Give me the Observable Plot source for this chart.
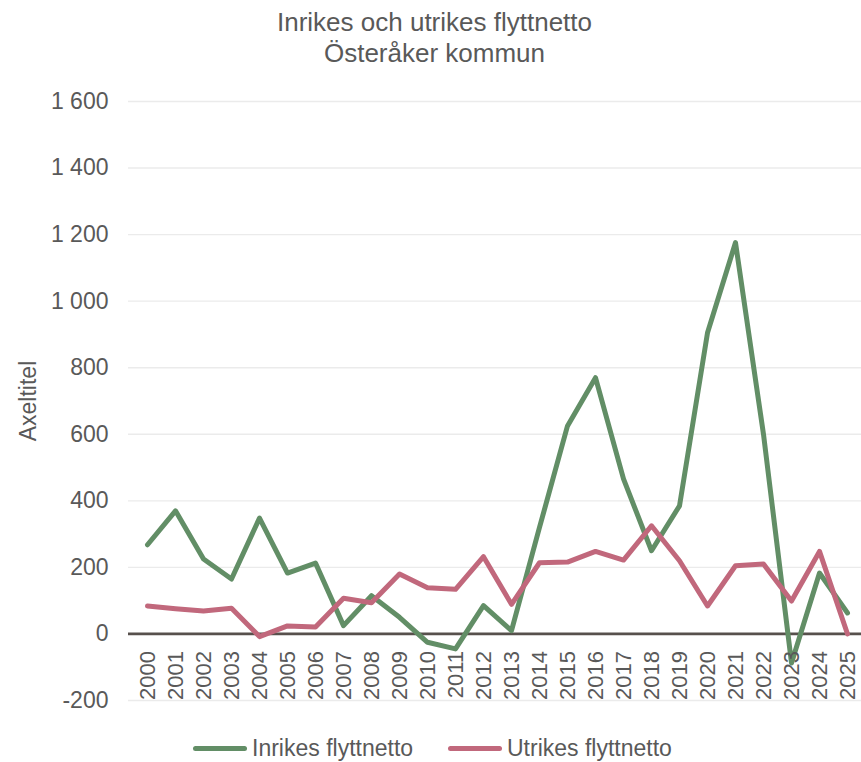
<!DOCTYPE html>
<html>
<head>
<meta charset="utf-8">
<script src="https://cdn.jsdelivr.net/npm/d3@7"></script>
<script src="https://cdn.jsdelivr.net/npm/@observablehq/plot@0.6"></script>
<style>
  html, body { margin: 0; padding: 0; background: #fff; }
  #wrap { position: relative; width: 861px; height: 762px; font-family: "Liberation Sans", Arial, sans-serif; color: #595959; overflow: hidden; }
  #title { position: absolute; top: 7px; left: 4px; width: 861px; text-align: center; font-size: 26px; line-height: 31px; }
  #chart { position: absolute; top: 80px; left: 0; }
  #legend { position: absolute; top: 734px; left: 0; width: 861px; height: 28px; font-size: 23px; line-height: 28px; }
  .item { position: absolute; top: 0; display: flex; align-items: center; }
  .swatch { width: 54px; height: 5px; border-radius: 3px; margin-right: 5px; }
</style>
</head>
<body>
<div id="wrap">
  <div id="title">Inrikes och utrikes flyttnetto<br>Österåker kommun</div>
  <div id="chart"></div>
  <div id="legend"></div>
</div>
<script>
const years = [2000,2001,2002,2003,2004,2005,2006,2007,2008,2009,2010,2011,2012,2013,2014,2015,2016,2017,2018,2019,2020,2021,2022,2023,2024,2025];
const inrikes = [268,370,225,165,348,183,213,25,115,50,-25,-45,85,10,320,625,770,466,250,385,905,1176,600,-87,183,63];
const utrikes = [84,76,69,77,-8,24,21,107,94,180,139,134,232,89,214,216,248,222,325,220,84,205,210,99,248,0];
const seriesNames = ["Inrikes flyttnetto", "Utrikes flyttnetto"];
const seriesColors = ["#628e66", "#c1687c"];
const yTicks = [-200,0,200,400,600,800,1000,1200,1400,1600];
const yLabel = "Axeltitel";

const rows = [];
years.forEach((y, i) => {
  rows.push({year: String(y), value: inrikes[i], series: seriesNames[0]});
  rows.push({year: String(y), value: utrikes[i], series: seriesNames[1]});
});

const fmt = d => {
  const s = Math.abs(d).toString().replace(/\B(?=(\d{3})+(?!\d))/g, " ");
  return (d < 0 ? "-" : "") + s;
};

const chart = Plot.plot({
  width: 861,
  height: 650,
  marginTop: 21,
  marginBottom: 30,
  marginLeft: 128,
  marginRight: 0,
  style: {fontFamily: "'Liberation Sans', Arial, sans-serif", color: "#595959", background: "transparent"},
  x: {type: "point", domain: years.map(String), range: [143, 851], padding: 0, axis: null},
  y: {domain: [-200, 1600], axis: null},
  color: {domain: seriesNames, range: seriesColors},
  marks: [
    Plot.ruleY(yTicks.filter(d => d !== 0), {stroke: "#ebebeb", strokeWidth: 1.4}),
    Plot.axisY(yTicks, {tickSize: 0, tickPadding: 20, tickFormat: fmt, fontSize: 23, fill: "#595959", label: null}),
    Plot.ruleY([0], {stroke: "#57504c", strokeWidth: 2.8}),
    Plot.line(rows, {x: "year", y: "value", z: "series", stroke: "series", strokeWidth: 5, strokeLinejoin: "round", strokeLinecap: "round"}),
    Plot.text(years.map(String), {x: d => d, y: () => 0, rotate: -90, textAnchor: "end", lineAnchor: "middle", dy: 17, fontSize: 22, fill: "#595959"}),
    Plot.text([yLabel], {frameAnchor: "left", dx: -100, rotate: -90, textAnchor: "middle", lineAnchor: "middle", fontSize: 23, fill: "#595959"})
  ]
});
document.getElementById("chart").appendChild(chart);

const legend = document.getElementById("legend");
const lefts = [193, 448];
seriesNames.forEach((name, i) => {
  const item = document.createElement("div");
  item.className = "item";
  item.style.left = lefts[i] + "px";
  const sw = document.createElement("div");
  sw.className = "swatch";
  sw.style.background = seriesColors[i];
  const label = document.createElement("span");
  label.textContent = name;
  item.appendChild(sw);
  item.appendChild(label);
  legend.appendChild(item);
});
</script>
</body>
</html>
